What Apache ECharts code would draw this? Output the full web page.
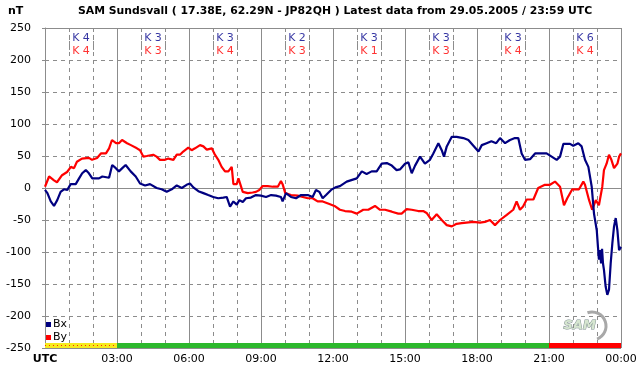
<!DOCTYPE html>
<html>
    <head>
        <meta charset="utf-8">
        <script src="https://cdn.jsdelivr.net/npm/echarts@6/dist/echarts.min.js"></script>
        <style>
            html, body { margin: 0; padding: 0; background: #fff; }
            #main { width: 642px; height: 376px; }
        </style>
    </head>
    <body>
        <div id="main"></div>
        <script>
            // hours (UTC) and field values in nT
            var bxHours = [0, 0.10, 0.24, 0.375, 0.51, 0.65, 0.79, 0.93, 1.07, 1.28, 1.42, 1.55, 1.70, 1.83, 1.97, 2.25, 2.39, 2.67, 2.80, 2.95,
                3.08, 3.22, 3.36, 3.57, 3.78, 3.96, 4.17, 4.375, 4.65, 4.86, 5.07, 5.28, 5.49, 5.70, 5.90, 6.04, 6.18, 6.39, 6.60, 6.80,
                7.01, 7.22, 7.43, 7.57, 7.71, 7.85, 7.99, 8.10, 8.24, 8.375, 8.58, 8.79, 9.0, 9.21, 9.42, 9.625, 9.83, 9.90, 10.04, 10.25,
                10.46, 10.67, 10.95, 11.15, 11.29, 11.43, 11.57, 11.71, 11.92, 12.10, 12.29, 12.57, 12.99, 13.20, 13.40, 13.61, 13.82, 14.03, 14.24, 14.45,
                14.65, 14.79, 15.0, 15.14, 15.28, 15.42, 15.625, 15.83, 16.04, 16.18, 16.39, 16.53, 16.625, 16.74, 16.95, 17.15, 17.43, 17.64, 17.85, 18.06,
                18.2, 18.4, 18.6, 18.8, 18.96, 19.17, 19.375, 19.58, 19.72, 19.86, 20.0, 20.21, 20.42, 20.625, 20.9, 21.11, 21.32, 21.46, 21.6, 21.875,
                22.01, 22.22, 22.36, 22.5, 22.64, 22.78, 22.875, 22.99, 23.04, 23.08, 23.125, 23.17, 23.21, 23.25, 23.29, 23.36, 23.43, 23.5, 23.57, 23.64,
                23.71, 23.78, 23.85, 23.92, 24];
            var bxValues = [-3, -8, -21, -28, -19, -6, -2, -3, 6, 6, 15, 23, 28, 23, 15, 15, 18, 16, 36, 31,
                26, 31, 36, 26, 18, 7, 4, 6, 0, -2, -6, -2, 4, 0, 5, 7, 1, -5, -8, -11,
                -14, -16, -15, -14, -29, -21, -26, -19, -22, -16, -15, -11, -12, -14, -11, -12, -14, -21, -8, -14,
                -16, -11, -11, -14, -3, -6, -16, -11, -3, 1, 3, 10, 15, 26, 22, 26, 26, 38, 39, 35,
                28, 29, 38, 40, 23, 35, 49, 38, 44, 54, 70, 59, 49, 65, 80, 80, 78, 75, 66, 57,
                67, 70, 73, 70, 78, 70, 75, 78, 78, 54, 44, 45, 54, 54, 54, 49, 44, 49, 69, 69,
                66, 70, 65, 44, 33, 2, -40, -66, -92, -112, -97, -118, -95, -118, -128, -154, -167, -159, -118, -86,
                -60, -47, -66, -97, -92];

            var byHours = [0, 0.17, 0.375, 0.5, 0.71, 0.92, 1.08, 1.21, 1.33, 1.54, 1.83, 1.96, 2.17, 2.33, 2.54, 2.67, 2.79, 2.96, 3.08, 3.21,
                3.42, 3.58, 3.83, 3.96, 4.10, 4.24, 4.51, 4.65, 4.79, 5.0, 5.14, 5.35, 5.49, 5.625, 5.76, 5.97, 6.11, 6.25, 6.46, 6.60,
                6.74, 6.95, 7.08, 7.22, 7.36, 7.50, 7.64, 7.78, 7.85, 7.99, 8.06, 8.10, 8.24, 8.45, 8.65, 8.79, 8.93, 9.07, 9.28, 9.49,
                9.70, 9.83, 9.90, 10.01, 10.25, 10.53, 10.74, 10.95, 11.15, 11.36, 11.57, 11.71, 11.85, 12.06, 12.29, 12.5, 12.78, 12.99, 13.26, 13.47,
                13.75, 13.96, 14.17, 14.45, 14.72, 14.86, 15.07, 15.28, 15.55, 15.76, 15.90, 16.11, 16.32, 16.53, 16.74, 16.95, 17.15, 17.36, 17.85, 18.125,
                18.33, 18.54, 18.75, 18.96, 19.24, 19.51, 19.65, 19.79, 19.92, 20.07, 20.35, 20.55, 20.83, 21.04, 21.25, 21.46, 21.625, 21.76, 21.97, 22.25,
                22.43, 22.5, 22.67, 22.8, 22.95, 23.08, 23.22, 23.29, 23.4, 23.5, 23.6, 23.71, 23.85, 23.92, 24];
            var byValues = [2, 18, 12, 9, 20, 25, 33, 31, 41, 46, 47, 44, 47, 54, 54, 62, 75, 70, 70, 75,
                70, 67, 62, 59, 49, 50, 52, 49, 44, 44, 46, 44, 52, 52, 57, 63, 59, 62, 67, 65,
                60, 62, 52, 44, 33, 26, 26, 33, 6, 6, 15, 18, -6, -8, -7, -6, -3, 3, 3, 2,
                2, 11, 6, -8, -11, -12, -14, -16, -16, -21, -21, -23, -25, -28, -34, -36, -37, -40, -34, -34,
                -28, -34, -34, -37, -40, -40, -33, -34, -36, -36, -39, -50, -41, -50, -58, -60, -56, -55, -53, -54,
                -53, -50, -58, -50, -42, -34, -21, -34, -29, -18, -18, 0, 5, 5, 10, 2, -27, -16, -2, -2,
                10, 5, -19, -34, -19, -27, 2, 28, 38, 52, 44, 31, 38, 49, 54];

            // K indices per 3-hour block
            var kBx = [4, 3, 3, 2, 3, 3, 3, 6];
            var kBy = [4, 3, 4, 3, 1, 3, 4, 4];

            // status bar along the bottom
            var statusStart = [0, 3, 21];
            var statusEnd = [3, 21, 24];
            var statusColor = ['#f6ea1c', '#2cb82c', '#ff0000'];

            var TITLE = 'SAM Sundsvall ( 17.38E, 62.29N - JP82QH ) Latest data from 29.05.2005 / 23:59 UTC';
            var GRID_GREY = '#8c8c8c';
            var FONT = '"DejaVu Sans", Verdana, sans-serif';

            function pairs(xs, ys) {
                var out = [];
                for (var i = 0; i < xs.length; i++) {
                    out.push([xs[i], ys[i]]);
                }
                return out;
            }

            var kTop = [], kBottom = [], kBrackets = [];
            for (var i = 0; i < kBx.length; i++) {
                var c = 1.5 + 3 * i;
                kTop.push({value: [c, 234], k: kBx[i]});
                kBottom.push({value: [c, 214], k: kBy[i]});
                kBrackets.push([{coord: [c - 0.49, 248.5]}, {coord: [c - 0.49, 203]}]);
                kBrackets.push([{coord: [c + 0.49, 248.5]}, {coord: [c + 0.49, 203]}]);
            }

            var statusAreas = [];
            for (var j = 0; j < statusStart.length; j++) {
                statusAreas.push([
                    {xAxis: statusStart[j], yAxis: -250, itemStyle: {color: statusColor[j], opacity: 1}},
                    {xAxis: statusEnd[j], yAxis: -242}
                ]);
            }

            var chart = echarts.init(document.getElementById('main'), null, {renderer: 'canvas'});

            chart.setOption({
                animation: false,
                backgroundColor: '#fff',
                textStyle: {fontFamily: FONT},
                grid: {left: 45, right: 21, top: 28, bottom: 28},
                graphic: [
                    {
                        type: 'text', left: 8, top: 6,
                        style: {text: 'nT', font: 'bold 11px ' + FONT, fill: '#000'}
                    },
                    {
                        type: 'text', left: 78, top: 6,
                        style: {text: TITLE, font: 'bold 10.85px ' + FONT, fill: '#000'}
                    },
                    {
                        type: 'arc', silent: true,
                        shape: {cx: 592, cy: 326, r: 14, startAngle: -1.9, endAngle: 1.2},
                        style: {stroke: '#a8a8a8', lineWidth: 3, fill: null}
                    },
                    {
                        type: 'text', left: 563, top: 319,
                        style: {text: 'SAM', font: 'italic bold 13px ' + FONT, fill: '#d6e6d0', stroke: '#7f8f8f', lineWidth: 1}
                    }
                ],
                legend: {
                    data: ['Bx', 'By'],
                    orient: 'vertical',
                    left: 46,
                    top: 319,
                    padding: 0,
                    itemGap: 2,
                    itemWidth: 5,
                    itemHeight: 5,
                    icon: 'rect',
                    textStyle: {fontSize: 11, color: '#000', padding: [0, 0, 0, -3]}
                },
                xAxis: [
                    {
                        type: 'value', min: 0, max: 24, interval: 3,
                        axisLine: {lineStyle: {color: GRID_GREY}},
                        axisTick: {show: false},
                        axisLabel: {
                            margin: 6, fontSize: 11, color: '#000',
                            formatter: function (v) {
                                if (v === 0) {
                                    return '{b|UTC}';
                                }
                                var h = v % 24;
                                return (h < 10 ? '0' : '') + h + ':00';
                            },
                            rich: {b: {fontWeight: 'bold', fontSize: 11, color: '#000'}}
                        },
                        splitLine: {lineStyle: {color: GRID_GREY, width: 1}}
                    },
                    {
                        type: 'value', min: 0, max: 24, interval: 1, position: 'bottom',
                        axisLine: {show: false}, axisTick: {show: false}, axisLabel: {show: false},
                        splitLine: {lineStyle: {color: GRID_GREY, type: [4, 4]}}
                    }
                ],
                yAxis: [
                    {
                        type: 'value', min: -250, max: 250, interval: 50,
                        axisLine: {show: true, lineStyle: {color: GRID_GREY}},
                        axisTick: {show: true, length: 3, lineStyle: {color: GRID_GREY}},
                        axisLabel: {margin: 14, fontSize: 11, color: '#000'},
                        splitLine: {lineStyle: {color: GRID_GREY, type: [4, 4]}}
                    },
                    {
                        type: 'value', min: -250, max: 250, interval: 250, position: 'left',
                        axisLine: {show: false}, axisTick: {show: false}, axisLabel: {show: false},
                        splitLine: {lineStyle: {color: GRID_GREY}}
                    }
                ],
                series: [
                    {
                        name: 'By', type: 'line', showSymbol: false, symbol: 'rect',
                        color: '#ff0000',
                        lineStyle: {width: 2.2, color: '#ff0000'},
                        data: pairs(byHours, byValues),
                        markArea: {silent: true, data: statusAreas},
                        markLine: {
                            silent: true, symbol: 'none', label: {show: false},
                            lineStyle: {color: '#ff2a00', type: [1, 3], width: 1},
                            data: [[{coord: [0, -246]}, {coord: [3, -246]}]]
                        }
                    },
                    {
                        name: 'Bx', type: 'line', showSymbol: false, symbol: 'rect',
                        color: '#000080',
                        lineStyle: {width: 2.2, color: '#000080'},
                        data: pairs(bxHours, bxValues)
                    },
                    {
                        name: 'kTop', type: 'scatter', symbolSize: 0, silent: true,
                        data: kTop,
                        label: {
                            show: true, position: 'inside', fontSize: 11, color: '#00008b',
                            formatter: function (p) { return 'K ' + p.data.k; }
                        },
                        markLine: {
                            silent: true, symbol: 'none',
                            lineStyle: {color: GRID_GREY, type: [3, 3], width: 1},
                            label: {show: false},
                            data: kBrackets
                        }
                    },
                    {
                        name: 'kBottom', type: 'scatter', symbolSize: 0, silent: true,
                        data: kBottom,
                        label: {
                            show: true, position: 'inside', fontSize: 11, color: '#ff0000',
                            formatter: function (p) { return 'K ' + p.data.k; }
                        }
                    }
                ]
            });
        </script>
    </body>
</html>
